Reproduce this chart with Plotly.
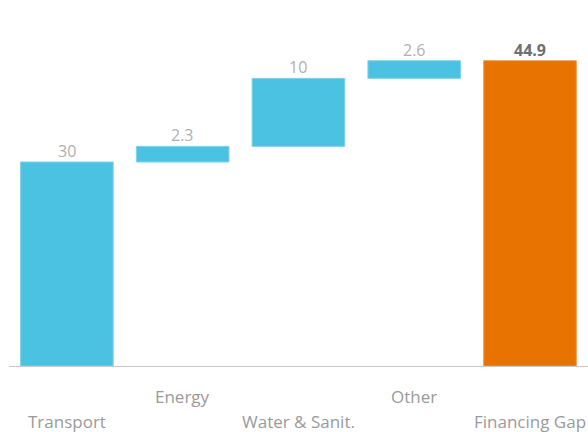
import plotly.graph_objects as go

categories = ["Transport", "Energy", "Water & Sanit.", "Other", "Financing Gap"]
values = [30, 2.3, 10, 2.6, 44.9]
measures = ["relative", "relative", "relative", "relative", "total"]
labels = ["30", "2.3", "10", "2.6", "<b>44.9</b>"]

fig = go.Figure(go.Waterfall(
    x=categories,
    y=values,
    measure=measures,
    increasing=dict(marker=dict(color="#4BC2E1", line=dict(color="#7fd3ea", width=1))),
    totals=dict(marker=dict(color="#E87300", line=dict(color="#f09a4a", width=1))),
    connector=dict(visible=False),
    cliponaxis=False,
))

# top of each bar, from the running total
tops = []
run = 0
for v, m in zip(values, measures):
    if m == "total":
        tops.append(run)
    else:
        run += v
        tops.append(run)

H = 340
annotations = []
for i, c in enumerate(categories):
    annotations.append(dict(
        x=c, y=tops[i], xref="x", yref="y", text=labels[i], showarrow=False,
        yanchor="bottom", xanchor="center", yshift=-2,
        font=dict(size=16, color="#6e6e6e" if measures[i] == "total" else "#b0b0b0",
                  family="Open Sans"),
    ))
    dy = 55 if i % 2 == 0 else 31
    annotations.append(dict(
        x=c, y=-dy / H, xref="x", yref="paper", text=c, showarrow=False,
        yanchor="middle", xanchor="center",
        font=dict(size=17, color="#9a9a9a", family="Open Sans"),
    ))

fig.update_layout(
    width=588, height=432,
    margin=dict(l=9, r=0, t=26, b=66),
    plot_bgcolor="white", paper_bgcolor="white",
    showlegend=False,
    bargap=0.2,
    xaxis=dict(showticklabels=False, showline=True, linecolor="#c8c8c8",
               linewidth=1, ticks="", showgrid=False, zeroline=False),
    yaxis=dict(range=[0, 50], visible=False, showgrid=False, zeroline=False),
    annotations=annotations,
    font=dict(family="Open Sans"),
)

fig.write_html("out.html")
